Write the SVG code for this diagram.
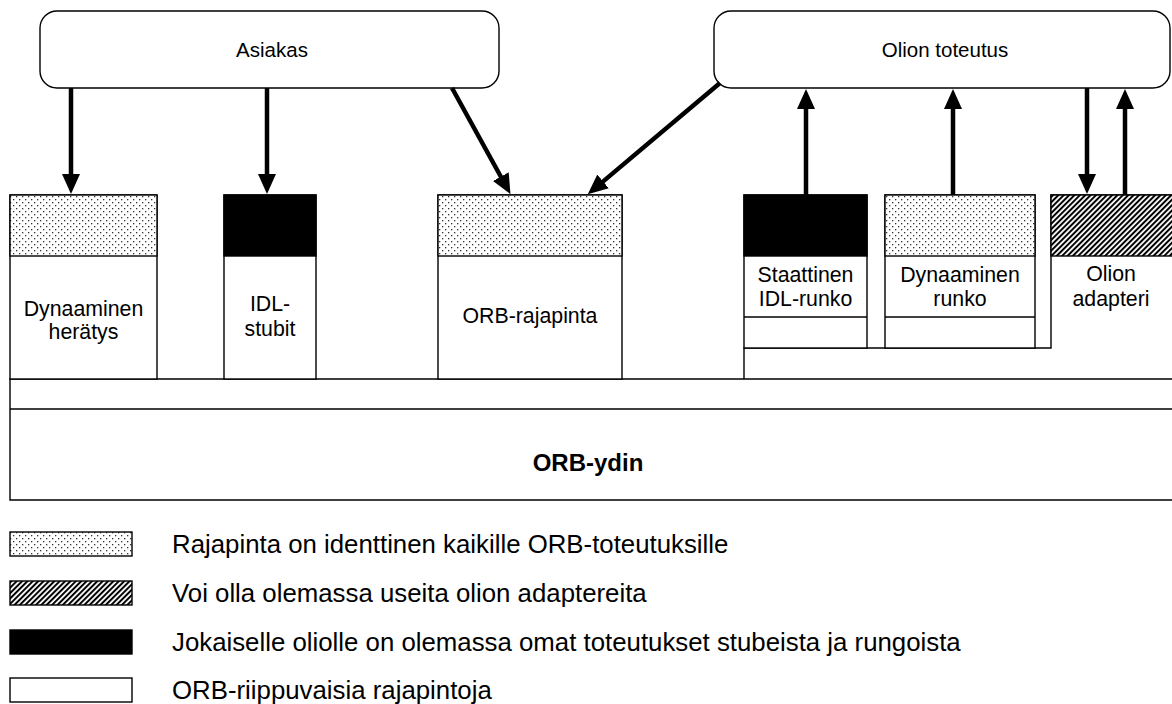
<svg xmlns="http://www.w3.org/2000/svg" width="1172" height="704" viewBox="0 0 1172 704">
  <style>
    .box { fill: #fff; stroke: #000; stroke-width: 1.4; }
    .ln { fill: none; stroke: #000; stroke-width: 1.4; }
    .dots { fill: url(#dots); stroke: #000; stroke-width: 1.4; }
    .hatch { fill: url(#hatch); stroke: #000; stroke-width: 1.4; }
    .solid { fill: #000; stroke: #000; stroke-width: 1.4; }
    .lbl { font-family: "Liberation Sans", Arial, sans-serif; font-size: 21.3px; fill: #000; text-anchor: middle; }
    .title { font-family: "Liberation Sans", Arial, sans-serif; font-size: 20.5px; fill: #000; text-anchor: middle; }
    .core { font-family: "Liberation Sans", Arial, sans-serif; font-size: 24px; font-weight: bold; fill: #000; text-anchor: middle; }
    .leg { font-family: "Liberation Sans", Arial, sans-serif; font-size: 25.8px; fill: #000; }
    .arrow { fill: none; stroke: #000; stroke-width: 4.5; marker-end: url(#head); }
  </style>
  <defs>
    <pattern id="dots" width="6" height="6" patternUnits="userSpaceOnUse">
      <rect width="6" height="6" fill="#fff"/>
      <rect x="1" y="1" width="1.3" height="1.3" fill="#333"/>
      <rect x="4" y="4" width="1.3" height="1.3" fill="#333"/>
    </pattern>
    <pattern id="hatch" width="3.8" height="10" patternUnits="userSpaceOnUse" patternTransform="rotate(45)">
      <rect width="3.8" height="10" fill="#fff"/>
      <rect width="2" height="10" fill="#000"/>
    </pattern>
    <marker id="head" markerUnits="userSpaceOnUse" markerWidth="20" markerHeight="18" viewBox="0 0 20 18" refX="1" refY="9" orient="auto">
      <path d="M0,0 L20,9 L0,18 z" fill="#000"/>
    </marker>
  </defs>

  <!-- top actors -->
  <g id="asiakas">
    <rect class="box" x="40" y="11" width="459" height="77" rx="17" ry="17"/>
    <text class="title" x="272" y="57">Asiakas</text>
  </g>
  <g id="olion-toteutus">
    <rect class="box" x="714" y="11" width="456" height="77" rx="17" ry="17"/>
    <text class="title" x="945" y="57">Olion toteutus</text>
  </g>

  <!-- ORB core -->
  <g id="orb-ydin">
    <path class="ln" d="M1172,379 H10 V500 H1172 M10,409 H1172"/>
    <text class="core" x="588" y="471">ORB-ydin</text>
  </g>

  <!-- client side interfaces -->
  <g id="dynaaminen-heratys">
    <rect class="box" x="10" y="195" width="147" height="184"/>
    <rect class="dots" x="10" y="195" width="147" height="61"/>
    <text class="lbl" x="83.5" y="316">Dynaaminen</text>
    <text class="lbl" x="83.5" y="339">herätys</text>
  </g>
  <g id="idl-stubit">
    <rect class="box" x="224" y="195" width="92" height="184"/>
    <rect class="solid" x="224" y="195" width="92" height="61"/>
    <text class="lbl" x="270" y="311">IDL-</text>
    <text class="lbl" x="270" y="336">stubit</text>
  </g>
  <g id="orb-rajapinta">
    <rect class="box" x="438" y="195" width="184" height="184"/>
    <rect class="dots" x="438" y="195" width="184" height="61"/>
    <text class="lbl" x="530" y="323">ORB-rajapinta</text>
  </g>

  <!-- object adapter and skeletons -->
  <g id="olion-adapteri">
    <path class="ln" d="M744,379 V348 H1051 V195 H1172"/>
    <rect class="hatch" x="1051" y="195" width="125" height="61"/>
    <text class="lbl" x="1111" y="281">Olion</text>
    <text class="lbl" x="1111" y="306">adapteri</text>
  </g>
  <g id="staattinen-idl-runko">
    <rect class="box" x="744" y="195" width="123" height="153"/>
    <rect class="solid" x="744" y="195" width="123" height="61"/>
    <line class="ln" x1="744" y1="317" x2="867" y2="317"/>
    <text class="lbl" x="805.5" y="282">Staattinen</text>
    <text class="lbl" x="805.5" y="306">IDL-runko</text>
  </g>
  <g id="dynaaminen-runko">
    <rect class="box" x="885" y="195" width="150" height="153"/>
    <rect class="dots" x="885" y="195" width="150" height="61"/>
    <line class="ln" x1="885" y1="317" x2="1035" y2="317"/>
    <text class="lbl" x="960" y="282">Dynaaminen</text>
    <text class="lbl" x="960" y="306">runko</text>
  </g>

  <!-- connectors -->
  <g id="connectors">
    <line class="arrow" x1="71" y1="88" x2="71" y2="175"/>
    <line class="arrow" x1="267" y1="88" x2="267" y2="175"/>
    <line class="arrow" x1="452" y1="88" x2="501.3" y2="177.5"/>
    <line class="arrow" x1="720" y1="83" x2="602.3" y2="182.1"/>
    <line class="arrow" x1="806" y1="195" x2="806" y2="108"/>
    <line class="arrow" x1="953" y1="195" x2="953" y2="108"/>
    <line class="arrow" x1="1087" y1="88" x2="1087" y2="175"/>
    <line class="arrow" x1="1125" y1="195" x2="1125" y2="108"/>
  </g>

  <!-- legend -->
  <g id="legend">
    <rect class="dots" x="10" y="532" width="122" height="24"/>
    <text class="leg" x="172" y="553">Rajapinta on identtinen kaikille ORB-toteutuksille</text>
    <rect class="hatch" x="10" y="581" width="122" height="24"/>
    <text class="leg" x="172" y="602">Voi olla olemassa useita olion adaptereita</text>
    <rect class="solid" x="10" y="630" width="122" height="24"/>
    <text class="leg" x="172" y="651">Jokaiselle oliolle on olemassa omat toteutukset stubeista ja rungoista</text>
    <rect class="box" x="10" y="678" width="122" height="24"/>
    <text class="leg" x="172" y="699">ORB-riippuvaisia rajapintoja</text>
  </g>
</svg>
